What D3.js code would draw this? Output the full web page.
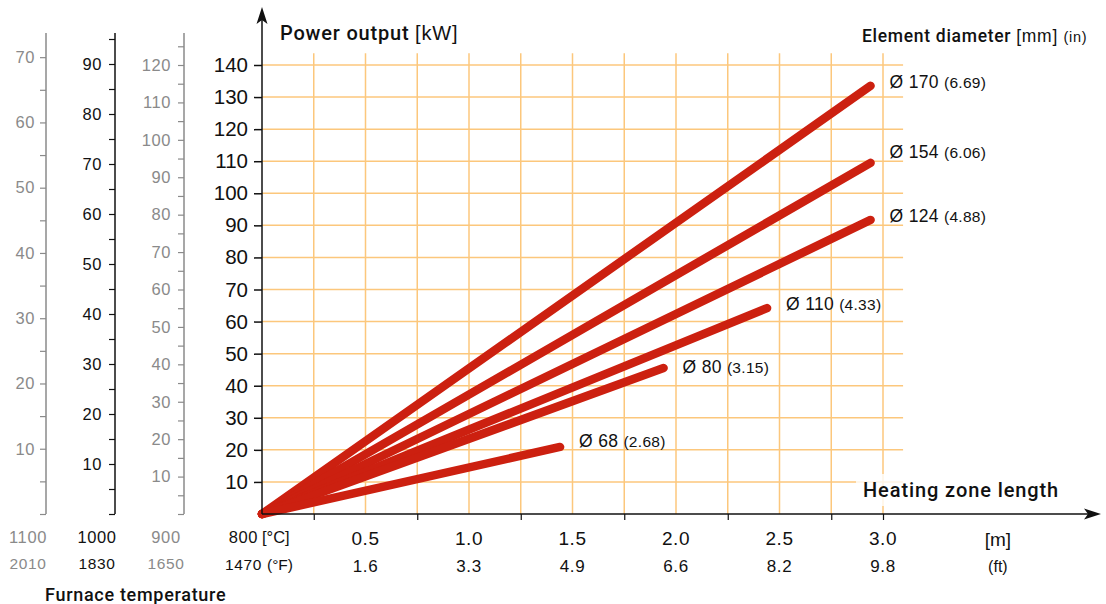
<!DOCTYPE html>
<html><head><meta charset="utf-8">
<script src="https://cdn.jsdelivr.net/npm/d3@7"></script>
<style>
body{margin:0;background:#fff;}
svg{display:block;font-family:"Liberation Sans",Arial,Helvetica,sans-serif;}
.med{font-family:Roboto,"Liberation Sans",sans-serif;font-weight:500;}
</style></head><body>
<svg id="c" width="1106" height="604"></svg>
<script>
// ---------- data ----------
const diameterMM = ["170", "154", "124", "110", "80", "68"];
const diameterIn = ["6.69", "6.06", "4.88", "4.33", "3.15", "2.68"];
const zoneLengthM = [2.94, 2.94, 2.94, 2.44, 1.94, 1.44];
const powerKW = [133.5, 109.5, 91.7, 64.2, 45.5, 20.9];
const labelNudge = [0, -7, 0, 0, 3, -2];           // layout: vertical label nudge (px)
const lengthTicksM = [0.5, 1.0, 1.5, 2.0, 2.5, 3.0];
const lengthTicksFt = ["1.6", "3.3", "4.9", "6.6", "8.2", "9.8"];
const powerTicks = d3.range(10, 141, 10);
const furnaceC = ["1100", "1000", "900"];
const furnaceF = ["2010", "1830", "1650"];
const baseC = "800", baseF = "1470";
const secondaryAt140 = [68.8, 89.8, 120.0];       // secondary axis value at 140 kW
const secondaryColor = ["#8a8a8a", "#111", "#8a8a8a"];

// ---------- layout ----------
const svg = d3.select("#c");
const x = d3.scaleLinear().domain([0, 3]).range([262, 883]);
const y = d3.scaleLinear().domain([0, 140]).range([514, 65]);
const gridColor = "#fcc77c";
const red = "#cc2010";

// grid
const grid = svg.append("g");
grid.selectAll("line.v").data(d3.range(0.25, 3.01, 0.25)).join("line")
  .attr("x1", d => x(d)).attr("x2", d => x(d))
  .attr("y1", y(0)).attr("y2", y(143.7))
  .attr("stroke", gridColor).attr("stroke-width", 1.5);
grid.selectAll("line.h").data(powerTicks).join("line")
  .attr("x1", x(0)).attr("x2", x(3.097))
  .attr("y1", d => y(d)).attr("y2", d => y(d))
  .attr("stroke", gridColor).attr("stroke-width", 1.5);

// Heating zone length label with translucent backdrop
svg.append("rect").attr("x", 856).attr("y", 474).attr("width", 206).attr("height", 32)
  .attr("fill", "#fff").attr("opacity", 0.8);
svg.append("text").attr("class", "med").attr("x", 863).attr("y", 497)
  .attr("font-size", 20).attr("letter-spacing", 0.9).attr("fill", "#111").text("Heating zone length");

// series lines
const line = d3.line().x(d => x(d[0])).y(d => y(d[1]));
const series = diameterMM.map((d, i) => ({
  mm: d, inch: diameterIn[i], pts: [[0, 0], [zoneLengthM[i], powerKW[i]]], nudge: labelNudge[i]
}));
svg.append("g").selectAll("path").data(series).join("path")
  .attr("d", d => line(d.pts)).attr("fill", "none")
  .attr("stroke", red).attr("stroke-width", 8.5).attr("stroke-linecap", "round");

const lab = svg.append("g").selectAll("text").data(series).join("text")
  .attr("x", d => x(d.pts[1][0]) + 19)
  .attr("y", d => y(d.pts[1][1]) + 2 + d.nudge)
  .attr("fill", "#111").attr("letter-spacing", 0.3);
lab.append("tspan").attr("font-size", 17.5).text(d => "Ø " + d.mm + " ");
lab.append("tspan").attr("font-size", 15.5).text(d => "(" + d.inch + ")");

// main axes
const yAxis = d3.axisLeft(y).tickValues(powerTicks).tickSize(8).tickPadding(6);
const gy = svg.append("g").attr("transform", `translate(${x(0)},0)`).call(yAxis);
gy.select(".domain").remove();
gy.selectAll(".tick line").attr("stroke", "#111").attr("stroke-width", 1.5);
gy.selectAll(".tick text").attr("font-size", 20.5).attr("fill", "#111")
  .attr("font-family", "Liberation Sans, Arial, sans-serif");

svg.append("line").attr("x1", x(0)).attr("x2", x(0)).attr("y1", y(0)).attr("y2", 14)
  .attr("stroke", "#111").attr("stroke-width", 1.5);
svg.append("path").attr("d", `M${x(0)},7 L${x(0) - 5.5},24 L${x(0)},20 L${x(0) + 5.5},24 Z`).attr("fill", "#111");

const bottomTicks = [0.25, 0.75, 1.25, 1.75, 2.25, 2.75, 3.0];
const xAxis = d3.axisBottom(x).tickValues(bottomTicks).tickSize(6).tickFormat("");
const gx = svg.append("g").attr("transform", `translate(0,${y(0)})`).call(xAxis);
gx.select(".domain").remove();
gx.selectAll(".tick line").attr("stroke", "#111").attr("stroke-width", 1.2);
svg.append("line").attr("x1", x(0)).attr("x2", 1092).attr("y1", y(0)).attr("y2", y(0))
  .attr("stroke", "#111").attr("stroke-width", 1.5);
svg.append("path").attr("d", `M1101,${y(0)} L1084,${y(0) - 5.5} L1088,${y(0)} L1084,${y(0) + 5.5} Z`).attr("fill", "#111");

// x labels
const xl = svg.append("g").attr("fill", "#111").attr("text-anchor", "middle");
xl.selectAll("text.m").data(lengthTicksM).join("text")
  .attr("x", d => x(d)).attr("y", 545).attr("font-size", 19).attr("letter-spacing", 0.6)
  .text(d => d.toFixed(1));
xl.selectAll("text.f").data(lengthTicksFt).join("text")
  .attr("x", (d, i) => x(lengthTicksM[i])).attr("y", 572).attr("font-size", 17).attr("letter-spacing", 0.6)
  .text(d => d);
xl.append("text").attr("x", x(3.555)).attr("y", 546).attr("font-size", 19).text("[m]");
xl.append("text").attr("x", x(3.555)).attr("y", 572).attr("font-size", 16).text("(ft)");

// temperature row for main axis
svg.append("text").attr("x", 258).attr("y", 543).attr("text-anchor", "end")
  .attr("font-size", 16.5).attr("letter-spacing", 0.6).attr("fill", "#111").text(baseC);
svg.append("text").attr("x", 262).attr("y", 543).attr("font-size", 16.5).attr("fill", "#111").text("[°C]");
svg.append("text").attr("x", 262).attr("y", 570).attr("text-anchor", "end")
  .attr("font-size", 15.5).attr("letter-spacing", 0.6).attr("fill", "#111").text(baseF);
svg.append("text").attr("x", 267).attr("y", 570).attr("font-size", 15.5).attr("fill", "#111").text("(°F)");

// secondary (furnace temperature) axes
const secX = [46, 115, 184];
const secPad = [5, 7, 7];
secondaryAt140.forEach((v, i) => {
  const s = d3.scaleLinear().domain([0, v]).range([y(0), y(140)]);
  const maxTick = Math.floor(s.invert(33) / 5) * 5;
  const ticks = d3.range(0, maxTick + 0.1, 5);
  const ax = d3.axisLeft(s).tickValues(ticks).tickSize(6).tickPadding(secPad[i])
    .tickFormat(t => (t > 0 && t % 10 === 0) ? t : "");
  const g = svg.append("g").attr("transform", `translate(${secX[i]},0)`).call(ax);
  g.select(".domain").remove();
  g.selectAll(".tick line").attr("stroke", secondaryColor[i]).attr("stroke-width", 1.2);
  g.selectAll(".tick text").attr("font-size", 16.5).attr("letter-spacing", 0.6)
    .attr("fill", secondaryColor[i]).attr("font-family", "Liberation Sans, Arial, sans-serif");
  svg.append("line").attr("x1", secX[i]).attr("x2", secX[i]).attr("y1", y(0)).attr("y2", 33)
    .attr("stroke", secondaryColor[i]).attr("stroke-width", 1.5);
  svg.append("text").attr("x", secX[i] - 18).attr("y", 543).attr("text-anchor", "middle")
    .attr("font-size", 16.5).attr("letter-spacing", 0.6).attr("fill", secondaryColor[i]).text(furnaceC[i]);
  svg.append("text").attr("x", secX[i] - 18).attr("y", 569).attr("text-anchor", "middle")
    .attr("font-size", 15.5).attr("letter-spacing", 0.6).attr("fill", secondaryColor[i]).text(furnaceF[i]);
});

// titles
const t1 = svg.append("text").attr("x", 280).attr("y", 40).attr("font-size", 20)
  .attr("letter-spacing", 0.8).attr("fill", "#111");
t1.append("tspan").attr("class", "med").text("Power output ");
t1.append("tspan").text("[kW]");
const t2 = svg.append("text").attr("x", 862).attr("y", 42).attr("font-size", 17.5)
  .attr("letter-spacing", 0.7).attr("fill", "#111");
t2.append("tspan").attr("class", "med").text("Element diameter ");
t2.append("tspan").text("[mm] ");
t2.append("tspan").attr("font-size", 14.5).text("(in)");
svg.append("text").attr("class", "med").attr("x", 45).attr("y", 601).attr("font-size", 18)
  .attr("letter-spacing", 0.7).attr("fill", "#111").text("Furnace temperature");
</script>
</body></html>
